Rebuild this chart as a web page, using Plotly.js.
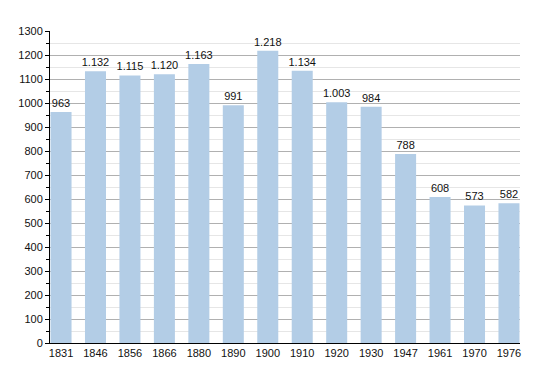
<!DOCTYPE html>
<html><head><meta charset="utf-8">
<script src="https://cdn.plot.ly/plotly-3.0.1.min.js"></script>
<style>html,body{margin:0;padding:0;background:#fff}#c{width:550px;height:373px}</style>
</head><body><div id="c"></div>
<script>
const years = ["1831","1846","1856","1866","1880","1890","1900","1910","1920","1930","1947","1961","1970","1976"];
const population = [963,1132,1115,1120,1163,991,1218,1134,1003,984,788,608,573,582];
const labels = population.map(v => v >= 1000 ? Math.floor(v/1000) + "." + String(v%1000).padStart(3,"0") : String(v));

Plotly.newPlot("c", [{
  type: "bar", x: years, y: population, text: labels,
  textposition: "outside", cliponaxis: false, constraintext: "none",
  textfont: {family: "Liberation Sans, Arial, sans-serif", size: 11, color: "#111"},
  marker: {color: "#b3cde6"}, hoverinfo: "none"
}], {
  width: 550, height: 373,
  margin: {l: 50, r: 30, t: 31, b: 30},
  paper_bgcolor: "#fff", plot_bgcolor: "#fff",
  bargap: 0.39, showlegend: false,
  font: {family: "Liberation Sans, Arial, sans-serif", size: 11, color: "#111"},
  xaxis: {type: "category", range: [-0.32, 13.32], showline: true, linecolor: "#000", linewidth: 1,
          ticks: "", showgrid: false, zeroline: false, tickfont: {size: 11}},
  yaxis: {range: [0, 1300], dtick: 100, tick0: 0, showline: true, linecolor: "#000", linewidth: 1,
          ticks: "outside", ticklen: 4, tickcolor: "#000", gridcolor: "#b0b0b0", gridwidth: 1, zeroline: false,
          tickfont: {size: 11},
          minor: {dtick: 50, showgrid: true, gridcolor: "#e6e6e6", ticks: "outside", ticklen: 3, tickcolor: "#000"}}
}, {staticPlot: true});
</script></body></html>
